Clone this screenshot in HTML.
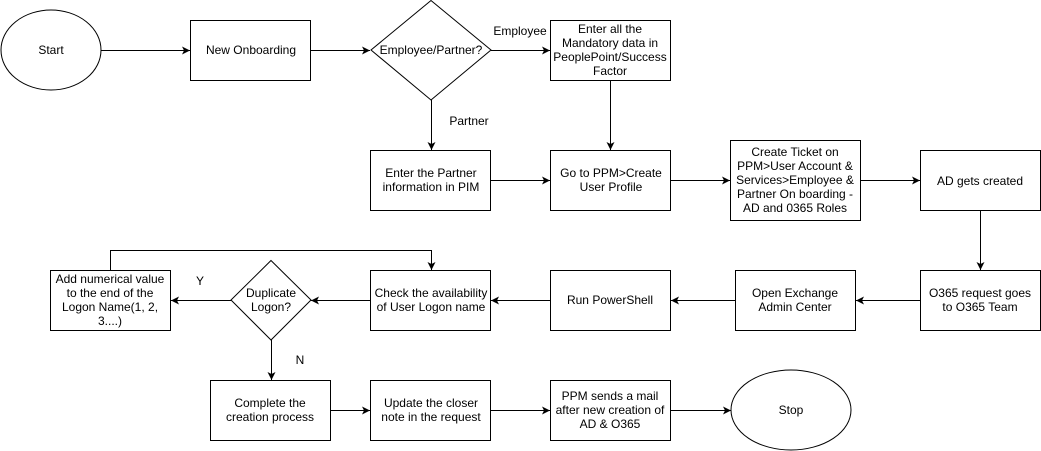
<!DOCTYPE html>
<html><head><meta charset="utf-8"><style>
html,body{margin:0;padding:0;background:#fff;}
svg{display:block;}
text{font-family:"Liberation Sans",Arial,sans-serif;font-size:12px;fill:#000;}
</style></head><body>
<svg width="1041" height="451" viewBox="0 0 1041 451" xmlns="http://www.w3.org/2000/svg">
<defs>
<marker id="a" markerWidth="10" markerHeight="10" refX="9" refY="5" orient="auto" markerUnits="userSpaceOnUse">
<path d="M1,1 L9,5 L1,9 L3,5 Z" fill="#000"/>
</marker>
</defs>
<g fill="#fff" stroke="#000" stroke-width="1">
<ellipse cx="51" cy="50" rx="50" ry="40"/>
<rect x="190.5" y="20.5" width="120" height="60"/>
<polygon points="431,0.5 491,50 431,100 371,50"/>
<rect x="550.5" y="20.5" width="120" height="60"/>
<rect x="370.5" y="150.5" width="120" height="60"/>
<rect x="550.5" y="150.5" width="120" height="60"/>
<rect x="730.5" y="140.5" width="130" height="80"/>
<rect x="920.5" y="150.5" width="120" height="60"/>
<rect x="920.5" y="270.5" width="120" height="60"/>
<rect x="735.5" y="270.5" width="120" height="60"/>
<rect x="550.5" y="270.5" width="120" height="60"/>
<rect x="370.5" y="270.5" width="120" height="60"/>
<polygon points="271,260.5 311,300 271,340 231,300"/>
<rect x="50.5" y="270.5" width="120" height="60"/>
<rect x="210.5" y="380.5" width="120" height="60"/>
<rect x="370.5" y="380.5" width="120" height="60"/>
<rect x="550.5" y="380.5" width="120" height="60"/>
<ellipse cx="791" cy="410" rx="60" ry="40"/>
</g>
<g stroke="#000" stroke-width="1" fill="none" marker-end="url(#a)">
<path d="M101,50.5 H190"/>
<path d="M311,50.5 H370"/>
<path d="M491,50.5 H550"/>
<path d="M431.5,100 V150"/>
<path d="M610.5,80 V150"/>
<path d="M491,180.5 H550"/>
<path d="M671,180.5 H730"/>
<path d="M861,180.5 H920"/>
<path d="M980.5,210 V270"/>
<path d="M920,300.5 H856"/>
<path d="M735,300.5 H671"/>
<path d="M550,300.5 H491"/>
<path d="M370,300.5 H311"/>
<path d="M231,300.5 H171"/>
<path d="M110.5,270 V250.5 H431.5 V270"/>
<path d="M271.5,340 V380"/>
<path d="M331,410.5 H370"/>
<path d="M491,410.5 H550"/>
<path d="M671,410.5 H731"/>
</g>
<g text-anchor="middle">
<text x="51" y="54">Start</text>
<text x="251" y="54">New Onboarding</text>
<text x="431" y="54">Employee/Partner?</text>
<text x="520" y="35">Employee</text>
<text x="469" y="125">Partner</text>
<text x="610" y="33">Enter all the</text>
<text x="610" y="47">Mandatory data in</text>
<text x="610" y="61">PeoplePoint/Success</text>
<text x="610" y="75">Factor</text>
<text x="431" y="177">Enter the Partner</text>
<text x="431" y="191">information in PIM</text>
<text x="611" y="177">Go to PPM&gt;Create</text>
<text x="611" y="191">User Profile</text>
<text x="795" y="156">Create Ticket on</text>
<text x="795" y="170">PPM&gt;User Account &amp;</text>
<text x="795" y="184">Services&gt;Employee &amp;</text>
<text x="795" y="198">Partner On boarding -</text>
<text x="795" y="212">AD and 0365 Roles</text>
<text x="980" y="185">AD gets created</text>
<text x="980" y="297">O365 request goes</text>
<text x="980" y="311">to O365 Team</text>
<text x="795" y="297">Open Exchange</text>
<text x="795" y="311">Admin Center</text>
<text x="610" y="304">Run PowerShell</text>
<text x="431" y="297">Check the availability</text>
<text x="431" y="311">of User Logon name</text>
<text x="271" y="297">Duplicate</text>
<text x="271" y="311">Logon?</text>
<text x="200" y="285">Y</text>
<text x="300" y="364">N</text>
<text x="110" y="283">Add numerical value</text>
<text x="110" y="297">to the end of the</text>
<text x="110" y="311">Logon Name(1, 2,</text>
<text x="110" y="325">3....)</text>
<text x="270" y="407">Complete the</text>
<text x="270" y="421">creation process</text>
<text x="431" y="407">Update the closer</text>
<text x="431" y="421">note in the request</text>
<text x="610" y="400">PPM sends a mail</text>
<text x="610" y="414">after new creation of</text>
<text x="610" y="428">AD &amp; O365</text>
<text x="791" y="414">Stop</text>
</g>
</svg>
</body></html>
